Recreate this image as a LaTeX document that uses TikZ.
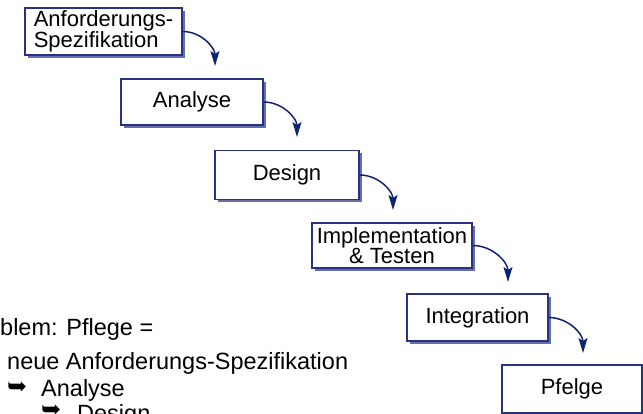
\documentclass[tikz,border=0pt]{standalone}
\usepackage{fontspec}
\setmainfont{Liberation Sans}
\newfontfamily\symfont{DejaVu Sans}
\usetikzlibrary{arrows.meta,shadows}
\definecolor{boxblue}{RGB}{40,50,130}
\definecolor{shadeblue}{RGB}{100,110,170}
\definecolor{flowblue}{RGB}{15,35,115}
\begin{document}
\begin{tikzpicture}[x=1pt,y=-1pt,
  phase/.style={draw=boxblue,fill=white,line width=1.3pt,inner sep=0pt,
    font=\fontsize{22}{20}\selectfont,
    drop shadow={shadow xshift=3pt,shadow yshift=-3pt,fill=shadeblue,opacity=1}},
  flow/.style={draw=flowblue,line width=1.5pt,-{Stealth[length=15pt,width=9pt,inset=3pt]}},
  note/.style={anchor=base west,inner sep=0pt,font=\fontsize{23.5}{26}\selectfont},
  bullet/.style={anchor=west,inner sep=0pt,font=\symfont\fontsize{24}{24}\selectfont}]
\useasboundingbox (0,0) rectangle (643,414);
\node[phase,minimum width=157pt,minimum height=47pt,align=left] (spec) at (103.5,31.5) {Anforderungs-\\Spezifikation};
\node[phase,minimum width=142pt,minimum height=46pt] (analyse) at (192,102) {Analyse};
\node[phase,minimum width=144pt,minimum height=49pt] (design) at (287,175) {Design};
\node[phase,minimum width=160pt,minimum height=45pt,align=center] (impl) at (392,245.5) {Implementation\\\& Testen};
\node[phase,minimum width=141pt,minimum height=47pt] (integ) at (477.5,317.5) {Integration};
\node[phase,minimum width=140pt,minimum height=48pt] (pflege) at (572,389) {Pfelge};
\coordinate (t1) at (215,66);
\coordinate (t2) at (297,137);
\coordinate (t3) at (393,210);
\coordinate (t4) at (508,282);
\coordinate (t5) at (583,353);
\draw[flow] (spec.east) to[out=0,in=90] (t1);
\draw[flow] (analyse.east) to[out=0,in=90] (t2);
\draw[flow] (design.east) to[out=0,in=90] (t3);
\draw[flow] (impl.east) to[out=0,in=90] (t4);
\draw[flow] (integ.east) to[out=0,in=90] (t5);
\node[note] (problem) at (0,335) {blem: Pflege =};
\node[note] (neu) at (7,369) {neue Anforderungs-Spezifikation};
\node[bullet] (b1) at (7,388) {➥};
\node[note] (ana) at (41,396) {Analyse};
\node[bullet] (b2) at (41,411) {➥};
\node[note] (des) at (77,421) {Design};
\end{tikzpicture}
\end{document}
